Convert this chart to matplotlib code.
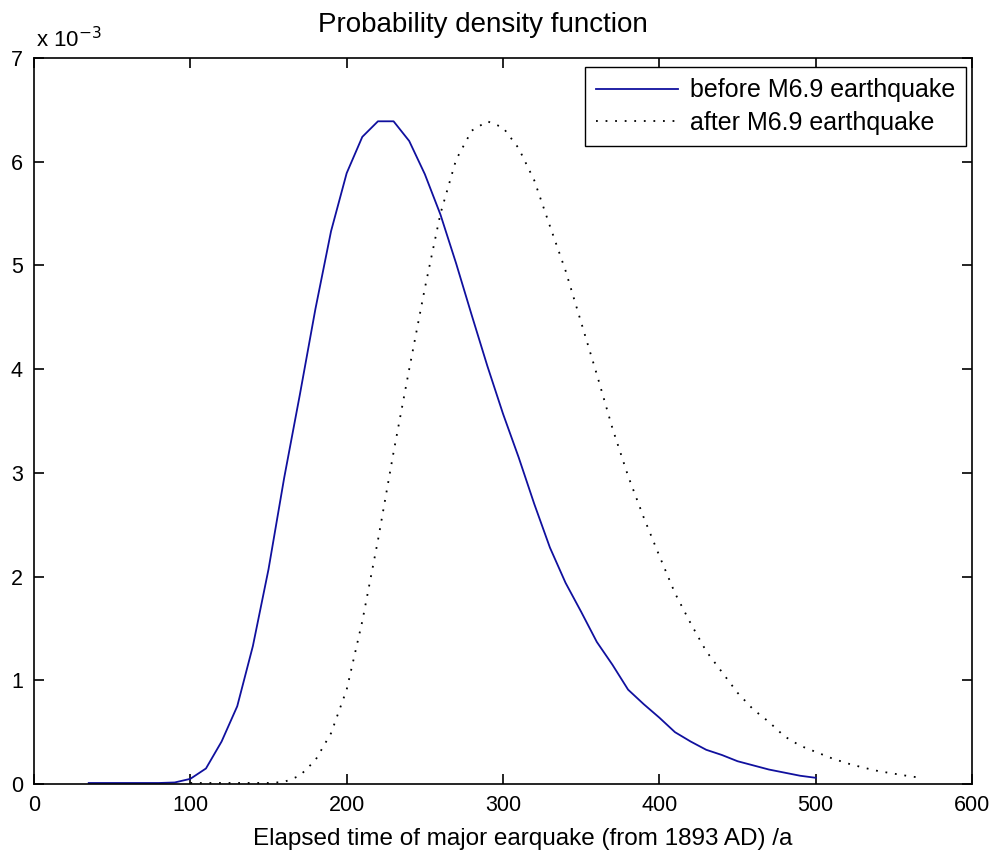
import matplotlib
matplotlib.use("Agg")
import matplotlib.pyplot as plt

# curve values, y in units of 1e-3
x_before = [35, 40, 50, 60, 70, 80, 90, 100, 110, 120, 130, 140, 150, 160, 170,
            180, 190, 200, 210, 220, 230, 240, 250, 260, 270, 280, 290, 300, 310,
            320, 330, 340, 350, 360, 370, 380, 390, 400, 410, 420, 430, 440, 450,
            460, 470, 480, 490, 500]
y_before = [0.01, 0.01, 0.01, 0.01, 0.01, 0.01, 0.015, 0.05, 0.15, 0.41, 0.75, 1.33,
            2.07, 2.95, 3.75, 4.58, 5.33, 5.89, 6.24, 6.39, 6.39, 6.20, 5.88, 5.49,
            5.02, 4.52, 4.03, 3.57, 3.15, 2.70, 2.28, 1.94, 1.66, 1.37, 1.15, 0.91,
            0.77, 0.64, 0.50, 0.41, 0.33, 0.28, 0.22, 0.18, 0.14, 0.11, 0.08, 0.06]

x_after = [100, 110, 120, 130, 140, 150, 160, 170, 180, 190, 200, 210, 220, 230,
           240, 250, 260, 270, 280, 290, 300, 310, 320, 330, 340, 350, 360, 370,
           380, 390, 400, 410, 420, 430, 440, 450, 460, 470, 480, 490, 500, 510,
           520, 530, 540, 550, 560, 565]
y_after = [0.01, 0.01, 0.01, 0.01, 0.01, 0.01, 0.02, 0.08, 0.23, 0.49, 0.91, 1.57,
           2.35, 3.20, 4.00, 4.78, 5.50, 6.02, 6.30, 6.39, 6.33, 6.13, 5.82, 5.38,
           4.95, 4.45, 3.95, 3.43, 2.97, 2.57, 2.20, 1.84, 1.55, 1.28, 1.08, 0.88,
           0.72, 0.60, 0.46, 0.37, 0.31, 0.25, 0.20, 0.16, 0.125, 0.10, 0.075, 0.065]

x_ticks = [0, 100, 200, 300, 400, 500, 600]
y_ticks = [0, 1, 2, 3, 4, 5, 6, 7]

plt.rcParams['font.family'] = ['Liberation Sans', 'DejaVu Sans']

fig = plt.figure(figsize=(9.94, 8.61), dpi=100)
ax = fig.add_axes([0.0342, 0.0894, 0.9437, 0.8432])

ax.plot(x_before, y_before, color='#10109e', linewidth=1.3, label='before M6.9 earthquake')
ax.plot(x_after, y_after, color='black', linewidth=1.3, linestyle=(0, (1, 4.3)),
        label='after M6.9 earthquake')

ax.set_xlim(0, 600)
ax.set_ylim(0, 7)
ax.set_xticks(x_ticks)
ax.set_yticks(y_ticks)
ax.tick_params(direction='in', length=7, width=1.2, top=True, right=True,
               labelsize=15.5, pad=8)
for s in ax.spines.values():
    s.set_linewidth(1.2)

ax.text(0.002, 1.008, 'x 10$^{-3}$', transform=ax.transAxes, fontsize=16,
        ha='left', va='bottom')
ax.text(0.479, 1.036, 'Probability density function', transform=ax.transAxes,
        fontsize=20, ha='center', va='baseline')
ax.text(0.521, -0.084, 'Elapsed time of major earquake (from 1893 AD) /a',
        transform=ax.transAxes, fontsize=17.5, ha='center', va='baseline')

leg = ax.legend(loc='upper right', bbox_to_anchor=(0.9936, 0.9876), fontsize=18,
                fancybox=False, framealpha=1, edgecolor='black', handlelength=3.3,
                handletextpad=0.45, borderaxespad=0, labelspacing=0.34, borderpad=0.45)
leg.get_frame().set_linewidth(1.0)

fig.savefig('out.png', dpi=100)
